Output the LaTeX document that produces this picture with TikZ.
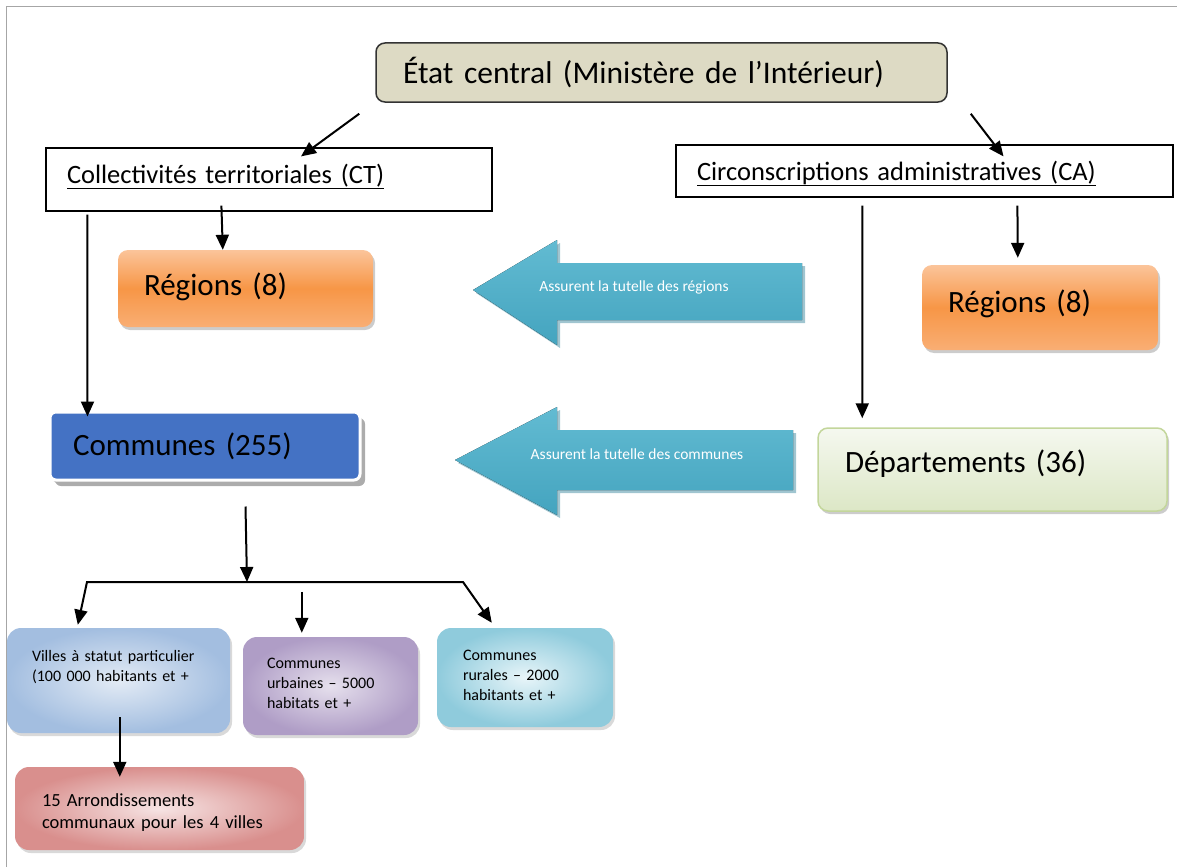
\documentclass[tikz,border=0pt]{standalone}
\usepackage{fontspec}
\setmainfont{Carlito}
\usetikzlibrary{arrows.meta,shadows}

\definecolor{etatfond}{HTML}{DDDAC4}
\definecolor{orHaut}{HTML}{FBC49A}
\definecolor{orMil}{HTML}{F79646}
\definecolor{orBas}{HTML}{F9AE74}
\definecolor{bleuCom}{HTML}{4472C4}
\definecolor{vertHaut}{HTML}{F5F8EF}
\definecolor{vertBas}{HTML}{DCE7C6}
\definecolor{vertBord}{HTML}{C3D69B}
\definecolor{blocA}{HTML}{62BBD2}
\definecolor{blocB}{HTML}{44A4BF}
\definecolor{blocC}{HTML}{2C7F97}
\definecolor{villesIn}{HTML}{E3EBF5}
\definecolor{villesOut}{HTML}{A3BEE0}
\definecolor{urbIn}{HTML}{E6E0ED}
\definecolor{urbOut}{HTML}{AF9DC6}
\definecolor{rurIn}{HTML}{E8F5F9}
\definecolor{rurOut}{HTML}{8FCBDC}
\definecolor{arrIn}{HTML}{F6E4E4}
\definecolor{arrOut}{HTML}{D98F8D}

\begin{document}
\begin{tikzpicture}[x=1pt, y=-1pt,
    every node/.style={inner ysep=0pt, align=left},
    >={Triangle[length=15pt,width=13pt]},
    fleche/.style={->, line width=2pt},
    cadre/.style={draw=black, line width=1.2pt, fill=white, inner xsep=21pt, font=\fontsize{26.5}{32}\selectfont},
    grand/.style={rounded corners=10pt, font=\fontsize{31}{37}\selectfont, drop shadow={shadow xshift=2pt, shadow yshift=-3pt, opacity=.4}},
    orange/.style={grand, top color=orHaut, bottom color=orBas, middle color=orMil, inner xsep=26pt},
    petit/.style={rounded corners=14pt, inner xsep=25pt, font=\fontsize{16}{20}\selectfont, drop shadow={shadow xshift=2pt, shadow yshift=-3pt, opacity=.3}},
    tutelle/.style={top color=blocA, bottom color=blocB, drop shadow={shadow xshift=3pt, shadow yshift=-3pt, fill=blocC, opacity=.45}},
    texteBloc/.style={text=white, font=\fontsize{15.5}{18}\selectfont},
  ]
  \useasboundingbox (0,0) rectangle (1177,867);
  \draw[gray!70, line width=1pt] (6,867) -- (6,7) -- (1177,7);

  % niveau central
  \node[draw=black!80, line width=1.5pt, fill=etatfond, rounded corners=9pt, inner xsep=27pt,
    minimum width=571pt, minimum height=59pt, text width=517pt, text height=25pt, text depth=4pt,
    font=\fontsize{31.5}{38}\selectfont] (etat) at (661.5,72.5) {État central (Ministère de l’Intérieur)};
  \node[cadre, minimum width=446pt, minimum height=63pt, text width=404pt, text height=20pt, text depth=13pt]
    (ct) at (269,179.5) {\underline{Collectivités territoriales (CT)}};
  \node[cadre, minimum width=497pt, minimum height=52pt, text width=455pt, text height=21pt, text depth=3pt]
    (ca) at (924.5,171) {\underline{Circonscriptions administratives (CA)}};

  % collectivites
  \node[orange, minimum width=255pt, minimum height=77pt, text width=203pt, text height=23pt, text depth=10pt]
    (regG) at (245.5,288.5) {Régions (8)};
  \node[grand, fill=bleuCom, draw=white, line width=3pt, rounded corners=6pt, inner xsep=23pt,
    drop shadow={shadow xshift=5pt, shadow yshift=-6pt, fill=gray!65, opacity=1},
    minimum width=310pt, minimum height=68pt, text width=264pt, text height=23pt, text depth=5pt]
    (communes) at (205,446) {Communes (255)};

  % circonscriptions
  \node[orange, minimum width=236pt, minimum height=85pt, text width=184pt, text height=23pt, text depth=14pt]
    (regD) at (1040,307.5) {Régions (8)};
  \node[grand, top color=vertHaut, bottom color=vertBas, draw=vertBord, line width=1.5pt, inner xsep=27pt,
    minimum width=349pt, minimum height=83pt, text width=295pt, text height=23pt, text depth=18pt]
    (dep) at (992.5,469.5) {Départements (36)};

  % fleches de tutelle
  \fill[tutelle] (473,290) -- (557,240) -- (557,263) -- (802,263) -- (802,320) -- (557,320) -- (557,345) -- cycle;
  \node[texteBloc] (tutReg) at (634,287) {Assurent la tutelle des régions};
  \fill[tutelle] (455,460) -- (557,407) -- (557,430) -- (793,430) -- (793,490) -- (557,490) -- (557,515) -- cycle;
  \node[texteBloc] (tutCom) at (637,454) {Assurent la tutelle des communes};

  % types de communes
  \node[petit, inner color=villesIn, outer color=villesOut, minimum width=223pt, minimum height=105pt,
    text width=173pt, text height=12pt, text depth=51pt] (villes) at (118.5,680.5)
    {Villes à statut particulier\\(100 000 habitants et +};
  \node[petit, inner color=urbIn, outer color=urbOut, inner xsep=24pt, minimum width=175pt, minimum height=98pt,
    text width=127pt, text height=12pt, text depth=48pt] (urbaines) at (330.5,686)
    {Communes\\urbaines – 5000\\habitats et +};
  \node[petit, inner color=rurIn, outer color=rurOut, inner xsep=26pt, minimum width=176pt, minimum height=99pt,
    text width=124pt, text height=12pt, text depth=47pt] (rurales) at (525,677.5)
    {Communes\\rurales – 2000\\habitants et +};
  \node[petit, inner color=arrIn, outer color=arrOut, inner xsep=27pt, minimum width=289pt, minimum height=83pt,
    text width=235pt, text height=14pt, text depth=19pt, font=\fontsize{18.5}{22}\selectfont] (arr) at (159.5,808.5)
    {15 Arrondissements\\communaux pour les 4 villes};

  % liaisons
  \draw[fleche] ([xshift=-16pt,yshift=-11pt]etat.south west) -- ([xshift=32pt,yshift=-9pt]ct.north);
  \draw[fleche] ([xshift=23pt,yshift=-11pt]etat.south east) -- ([xshift=79pt,yshift=-12pt]ca.north);
  \draw[fleche] ([xshift=176pt,yshift=6pt]ct.south west) -- ([xshift=105pt]regG.north west);
  \draw[fleche] ([xshift=42pt,yshift=-3pt]ct.south west) -- ([xshift=39pt,yshift=-6pt]communes.north west);
  \draw[fleche] ([xshift=187pt,yshift=-8pt]ca.south west) -- ([xshift=45pt,yshift=9pt]dep.north west);
  \draw[fleche] ([xshift=342pt,yshift=-8pt]ca.south west) -- ([xshift=96pt,yshift=7pt]regD.north west);

  \coordinate (fourche) at (247,582);
  \coordinate (brG) at (87,582);
  \coordinate (brD) at (463,582);
  \draw[fleche] ([xshift=197pt,yshift=-25pt]communes.south west) -- (fourche);
  \draw[<->, line width=2pt] ([xshift=71pt,yshift=3pt]villes.north west) -- (brG) -- (brD)
    -- ([xshift=55pt,yshift=5pt]rurales.north west);
  \draw[fleche] ([xshift=59pt,yshift=45pt]urbaines.north west) -- ([xshift=59pt,yshift=4pt]urbaines.north west);
  \draw[fleche] ([xshift=113pt,yshift=16pt]villes.south west) -- ([xshift=105pt,yshift=-10pt]arr.north west);
\end{tikzpicture}
\end{document}
